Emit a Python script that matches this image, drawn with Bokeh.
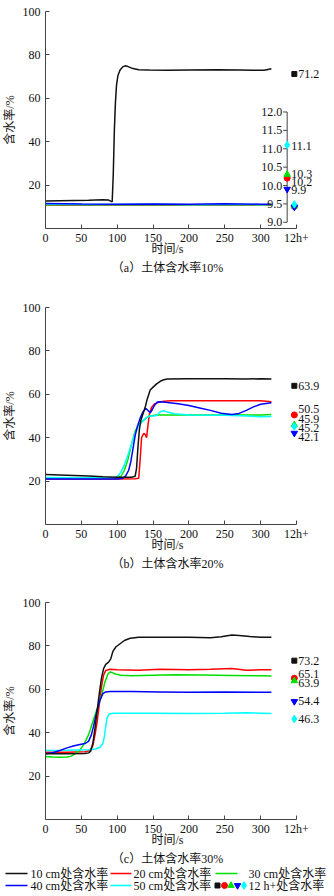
from bokeh.plotting import figure
from bokeh.layouts import column
from bokeh.models import Range1d, FixedTicker, Title, ColumnDataSource, AllLabels
from bokeh.core.properties import value
from bokeh.embed import file_html
from bokeh.resources import INLINE

FONT = "Liberation Serif, Noto Sans CJK SC"

# ---------------- data ----------------
SERIES_NAMES = ["10 cm处含水率", "20 cm处含水率", "30 cm处含水率", "40 cm处含水率", "50 cm处含水率"]
MARKER_NAME = "12 h+处含水率"
CAPTIONS = ["（a）土体含水率10%", "（b）土体含水率20%", "（c）土体含水率30%"]
X_LABEL = "时间/s"
Y_LABEL = "含水率/%"
X_TICKS = [0, 50, 100, 150, 200, 250, 300, 350]
X_TICK_LABELS = ["0", "50", "100", "150", "200", "250", "300", "12h+"]
Y_TICKS = [0, 20, 40, 60, 80, 100]
Y_TICK_LABELS = ["", "20", "40", "60", "80", "100"]
INSET_TICKS = [9.0, 9.5, 10.0, 10.5, 11.0, 11.5, 12.0]

# panel (a) soil water content 10%
A10_T = [0, 20, 40, 60, 80, 88, 91, 93, 94.5, 96, 97.5, 99, 101, 104, 108, 112, 116, 122, 130, 145, 170, 200, 240, 270, 290, 305, 315]
A10_V = [12.7, 12.8, 12.9, 13.0, 13.2, 13.1, 12.6, 12.3, 25, 45, 58, 66, 70.5, 73, 74.6, 75.0, 74.5, 73.7, 73.2, 73.0, 72.9, 73.0, 73.1, 73.0, 72.9, 72.9, 73.6]
A20_T = [0, 50, 100, 150, 200, 250, 300, 315]
A20_V = [10.8, 10.7, 10.8, 10.7, 10.8, 10.7, 10.8, 10.7]
A30_T = [0, 50, 100, 150, 200, 250, 300, 315]
A30_V = [11.0, 10.9, 11.0, 11.0, 10.9, 11.0, 10.9, 11.0]
A40_T = [0, 50, 100, 150, 200, 250, 300, 315]
A40_V = [11.5, 11.3, 11.2, 11.3, 11.2, 11.4, 11.2, 11.2]
A50_T = [0, 50, 100, 150, 200, 250, 300, 315]
A50_V = [11.3, 11.1, 11.1, 11.2, 11.0, 11.1, 11.0, 11.1]
A_END = [71.2, 10.2, 10.3, 9.9, 11.1]

# panel (b) soil water content 20%
B10_T = [0, 20, 40, 60, 80, 100, 120, 125, 127, 129, 131, 133, 136, 139, 142, 146, 150, 155, 160, 165, 170, 200, 250, 280, 300, 315]
B10_V = [23.0, 22.8, 22.6, 22.3, 22.0, 21.8, 21.8, 22.2, 26, 36, 44, 48, 51, 54, 58, 62, 63.3, 64.8, 66, 66.7, 67, 67.2, 67.2, 67, 67.2, 67]
B20_T = [0, 50, 100, 125, 130, 132, 134, 137, 139, 141, 143, 145, 148, 152, 158, 165, 175, 250, 300, 315]
B20_V = [21, 21, 21, 21.1, 21.3, 30, 40, 42, 41.5, 40, 46, 51, 54, 55.5, 56.3, 56.8, 57, 57, 57, 56.6]
B30_T = [0, 50, 100, 105, 110, 115, 120, 125, 130, 135, 140, 145, 155, 200, 250, 300, 315]
B30_V = [21.5, 21.5, 21.6, 22, 25, 30, 37, 43, 46, 47.5, 49, 50, 50.5, 50.5, 50.5, 50.5, 50.7]
B40_T = [0, 50, 100, 108, 112, 116, 119, 122, 125, 128, 132, 136, 140, 143, 146, 149, 152, 156, 160, 170, 185, 200, 215, 230, 245, 260, 270, 280, 290, 300, 315]
B40_V = [21, 21, 21, 21.3, 22.5, 25, 29, 35, 41, 45, 49, 52, 53.5, 52.5, 51.5, 53, 55, 56.5, 56.6, 56.2, 55.6, 54.8, 53.7, 52.6, 51.3, 50.7, 51.2, 52.6, 54.2, 55.4, 56.1]
B50_T = [0, 50, 95, 100, 105, 110, 115, 120, 125, 130, 135, 140, 145, 150, 155, 160, 165, 170, 180, 200, 250, 280, 300, 315]
B50_V = [21.7, 21.6, 21.6, 22, 24, 27.5, 32, 37, 42, 45.5, 47.5, 49, 50, 50, 50.2, 52, 52.4, 51.8, 51, 50.5, 50.3, 50, 49.6, 49.8]
B_END = [63.9, 50.5, 45.9, 42.1, 45.2]

# panel (c) soil water content 30%
C10_T = [0, 30, 55, 60, 63, 66, 69, 72, 75, 78, 81, 84, 88, 91, 94, 98, 104, 110, 118, 130, 160, 200, 230, 245, 260, 270, 285, 300, 315]
C10_V = [30.3, 30.3, 30.4, 30.7, 31.5, 35, 42, 50, 58, 65, 69.5, 71.5, 72.5, 74, 77.5, 79.5, 81, 82.5, 83.5, 84, 84, 84, 83.7, 84.2, 85, 84.8, 84.3, 84, 84]
C20_T = [0, 30, 55, 62, 66, 69, 72, 75, 78, 81, 84, 90, 100, 130, 160, 200, 230, 260, 280, 300, 315]
C20_V = [31, 31, 31.2, 31.8, 34, 39, 45, 53, 61, 66.5, 68.7, 69.2, 69, 68.8, 69.2, 69, 69.2, 69.6, 68.8, 69, 69]
C30_T = [0, 10, 20, 30, 36, 42, 48, 54, 60, 66, 72, 78, 83, 87, 90, 93, 97, 105, 120, 150, 180, 220, 260, 300, 315]
C30_V = [29, 28.8, 28.7, 28.8, 29.2, 30.5, 32, 35, 39, 45, 51, 57, 63.5, 67, 68, 67.8, 67, 66.5, 66.3, 66.5, 66.7, 66.6, 66.4, 66.2, 66.1]
C40_T = [0, 10, 20, 30, 40, 48, 55, 60, 64, 67, 70, 73, 76, 80, 84, 90, 120, 160, 200, 250, 300, 315]
C40_V = [30.3, 30.8, 31.8, 33, 34, 34.6, 35, 36, 39, 43, 47.5, 51.5, 55, 58, 58.8, 59, 59, 58.8, 58.6, 58.8, 58.6, 58.6]
C50_T = [0, 30, 60, 70, 76, 80, 82, 84, 86, 89, 95, 150, 200, 250, 280, 300, 315]
C50_V = [31.8, 31.9, 32.1, 32.5, 33.3, 35, 38, 43, 47, 48.6, 49, 49, 48.9, 49, 49.2, 49, 48.8]
C_END = [73.2, 65.1, 63.9, 54.4, 46.3]

# ---------------- style ----------------
COLORS = ["#111111", "#ff0000", "#00e000", "#0000ff", "#00ffff"]
MARKERS = ["square", "circle", "triangle", "inverted_triangle", "diamond"]
MSIZES = [5, 6, 6.5, 6.5, 7.5]
DRAW_ORDER = [1, 2, 4, 3, 0]
AXIS_COLOR = "#444444"
X_START = -62.75     # frame starts at the page edge; t = 0 sits 45 px in
X_END = 403          # frame reaches the right edge; 350 = "12h+" position
X_MARK = 347         # where the 12 h+ markers sit
X_INSET = 337        # inset axis position
PLOT_H = 217         # pixels from 0 to 100 %
TOP_PAD = 9          # extra frame pixels above 100 % so the top label is not clipped
Y_END = 100 + TOP_PAD * 100 / PLOT_H
INSET_LO, INSET_HI = 8.831, 14.733   # inset scale over the 0..100 span
INSET_RANGE = (INSET_LO, INSET_HI + (INSET_HI - INSET_LO) * TOP_PAD / PLOT_H)


def base_panel(h, top, caption):
    p = figure(width=334, height=h, x_range=Range1d(X_START, X_END), y_range=Range1d(0, Y_END),
               min_border_left=0, min_border_right=0, min_border_top=top - TOP_PAD,
               min_border_bottom=h - top - PLOT_H,
               toolbar_location=None, output_backend="svg",
               outline_line_color=None, background_fill_color="white",
               border_fill_color="white")
    p.xgrid.visible = False
    p.ygrid.visible = False
    xa = p.xaxis[0]
    xa.ticker = FixedTicker(ticks=X_TICKS, minor_ticks=[])
    xa.major_label_overrides = {t: l for t, l in zip(X_TICKS, X_TICK_LABELS)}
    xa.bounds = (0, 350)
    xa.axis_label = X_LABEL
    xa.axis_label_standoff = -6
    xa.major_label_standoff = 2
    ya = p.yaxis[0]
    ya.fixed_location = 0
    ya.bounds = (0, 100)
    ya.ticker = FixedTicker(ticks=Y_TICKS, minor_ticks=[])
    ya.major_label_overrides = {t: l for t, l in zip(Y_TICKS, Y_TICK_LABELS)}
    ya.axis_label = Y_LABEL
    ya.axis_label_standoff = 3
    ya.major_label_standoff = 5
    ya.major_label_policy = AllLabels()
    for ax in (xa, ya):
        ax.axis_label_text_font = FONT
        ax.axis_label_text_font_size = "12px"
        ax.axis_label_text_font_style = "normal"
        ax.axis_label_text_color = "#111111"
        ax.axis_line_color = AXIS_COLOR
        ax.major_tick_line_color = AXIS_COLOR
        ax.major_tick_in = 4
        ax.major_tick_out = 0
        ax.minor_tick_line_color = None
        ax.major_label_text_font = FONT
        ax.major_label_text_font_size = "12px"
        ax.major_label_text_color = "#111111"
    t2 = Title(text=caption, align="center", offset=3.5, text_font=FONT,
               text_font_size="12px", text_font_style="normal", standoff=0,
               text_color="#111111")
    p.add_layout(t2, "below")
    return p


def draw_lines(p, series):
    for i in DRAW_ORDER:
        t, v = series[i]
        p.line(t, v, line_color=COLORS[i], line_width=1.5)


def draw_markers(p, idx, vals, x, dys, range_name="default"):
    kw = {} if range_name == "default" else {"y_range_name": range_name}
    for i, v in zip(idx, vals):
        p.scatter([x], [v], marker=MARKERS[i], size=MSIZES[i], fill_color=COLORS[i],
                  line_color=COLORS[i], **kw)
    src = ColumnDataSource(dict(x=[x] * len(vals), y=list(vals),
                                text=[f"{v:.1f}" for v in vals], dy=list(dys)))
    p.text(x="x", y="y", text="text", source=src, x_offset=4, y_offset="dy",
           text_align="left", text_baseline="middle", text_font=value(FONT),
           text_font_size="12px", text_color="#111111", **kw)


# ---------- panel a ----------
pa = base_panel(290, 11, CAPTIONS[0])
draw_lines(pa, [(A10_T, A10_V), (A20_T, A20_V), (A30_T, A30_V), (A40_T, A40_V), (A50_T, A50_V)])
pa.extra_y_ranges = {"inset": Range1d(*INSET_RANGE)}
# inset axis
pa.segment(x0=[X_INSET], y0=[INSET_TICKS[0]], x1=[X_INSET], y1=[INSET_TICKS[-1]],
           line_color=AXIS_COLOR, line_width=1, y_range_name="inset")
pa.segment(x0=[X_INSET - 5.6] * len(INSET_TICKS), y0=INSET_TICKS,
           x1=[X_INSET] * len(INSET_TICKS), y1=INSET_TICKS,
           line_color=AXIS_COLOR, line_width=1, y_range_name="inset")
pa.text(x=[X_INSET] * len(INSET_TICKS), y=INSET_TICKS, text=[f"{t:.1f}" for t in INSET_TICKS],
        x_offset=-5, text_align="right", text_baseline="middle", text_font=value(FONT),
        text_font_size="12px", text_color="#111111", y_range_name="inset")
for i in [1, 2, 3, 4]:
    pa.scatter([X_MARK], [A_END[i]], marker=MARKERS[i], size=MSIZES[i],
               fill_color=COLORS[i], line_color=COLORS[i])
draw_markers(pa, [0], [A_END[0]], X_MARK, [0])
draw_markers(pa, [1, 2, 3, 4], A_END[1:], X_INSET, [3.5, -0.5, 0.5, 1], range_name="inset")

# ---------- panel b ----------
pb = base_panel(290, 17, CAPTIONS[1])
draw_lines(pb, [(B10_T, B10_V), (B20_T, B20_V), (B30_T, B30_V), (B40_T, B40_V), (B50_T, B50_V)])
draw_markers(pb, [0, 1, 2, 3, 4], B_END, X_MARK, [0, -6, -6, 4, 1.5])

# ---------- panel c ----------
pc = base_panel(286, 22, CAPTIONS[2])
draw_lines(pc, [(C10_T, C10_V), (C20_T, C20_V), (C30_T, C30_V), (C40_T, C40_V), (C50_T, C50_V)])
draw_markers(pc, [0, 1, 2, 3, 4], C_END, X_MARK, [0, -4, 2.6, 0, 0])

# ---------- legend ----------
leg = figure(width=334, height=30, x_range=Range1d(0, 334), y_range=Range1d(30, 0),
             x_axis_location=None, y_axis_location=None,
             min_border_left=0, min_border_right=0, min_border_top=0, min_border_bottom=0,
             toolbar_location=None, output_backend="svg", outline_line_color=None)
leg.xgrid.visible = False
leg.ygrid.visible = False
ROW_Y = [7, 19]
COL_LINE = [(5, 27), (110, 131), (215, 237)]
COL_TEXT = [30, 133, 248]
slots = [(0, 0), (0, 1), (0, 2), (1, 0), (1, 1)]
for i, (r, c) in enumerate(slots):
    leg.segment(x0=[COL_LINE[c][0]], y0=[ROW_Y[r]], x1=[COL_LINE[c][1]], y1=[ROW_Y[r]],
                line_color=COLORS[i], line_width=1.6)
    leg.text(x=[COL_TEXT[c]], y=[ROW_Y[r]], text=[SERIES_NAMES[i]], text_align="left",
             text_baseline="middle", text_font=value(FONT), text_font_size="12px",
             text_color="#111111")
MK_X = [217, 224, 230.5, 237, 243.5]
for i in range(5):
    leg.scatter([MK_X[i]], [ROW_Y[1]], marker=MARKERS[i], size=MSIZES[i],
                fill_color=COLORS[i], line_color=COLORS[i])
leg.text(x=[COL_TEXT[2]], y=[ROW_Y[1]], text=[MARKER_NAME], text_align="left",
         text_baseline="middle", text_font=value(FONT), text_font_size="12px",
         text_color="#111111")

layout = column(pa, pb, pc, leg, spacing=0)
open("out.html", "w").write(file_html(layout, INLINE))
